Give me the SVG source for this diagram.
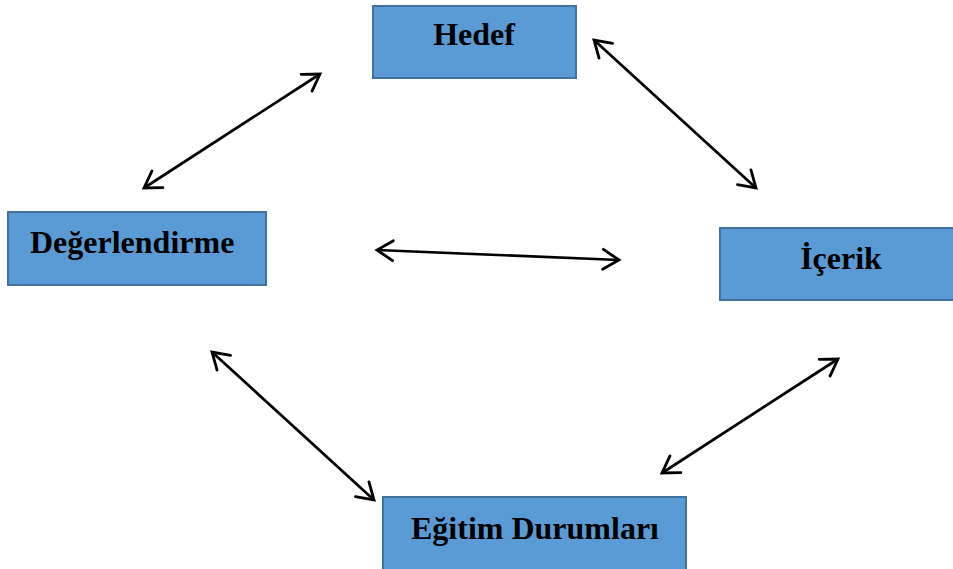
<svg xmlns="http://www.w3.org/2000/svg" width="953" height="569" viewBox="0 0 953 569">
<defs>
<marker id="ah" markerUnits="userSpaceOnUse" markerWidth="40" markerHeight="40" refX="0" refY="0" viewBox="-20 -20 40 40" orient="auto-start-reverse" overflow="visible">
<path d="M-16,-10 L0,0 L-16,10" fill="none" stroke="#000" stroke-width="2.8" stroke-linecap="round" stroke-linejoin="miter"/>
</marker>
<style>
.box{fill:#5b9bd5;stroke:#41719c;stroke-width:2}
.lbl{font-family:"Liberation Serif","Times New Roman",serif;font-weight:bold;font-size:32px;fill:#000}
.con{stroke:#000;stroke-width:2.7;fill:none;marker-start:url(#ah);marker-end:url(#ah)}
</style>
</defs>
<rect width="953" height="569" fill="#fff"/>
<g id="hedef"><rect class="box" x="373" y="6" width="203" height="72"/><text class="lbl" x="474" y="45" text-anchor="middle">Hedef</text></g>
<g id="degerlendirme"><rect class="box" x="8" y="212" width="258" height="73"/><text class="lbl" x="30" y="253">Değerlendirme</text></g>
<g id="icerik"><rect class="box" x="720" y="228" width="236" height="72"/><text class="lbl" x="841" y="269" text-anchor="middle">İçerik</text></g>
<g id="egitim"><rect class="box" x="383" y="497" width="303" height="76"/><text class="lbl" x="535" y="539" text-anchor="middle">Eğitim Durumları</text></g>
<g id="connectors">
<line class="con" x1="320" y1="74" x2="144" y2="188"/>
<line class="con" x1="594" y1="40" x2="756" y2="188"/>
<line class="con" x1="377" y1="250" x2="619" y2="260"/>
<line class="con" x1="838" y1="359" x2="662" y2="473"/>
<line class="con" x1="212" y1="352" x2="374" y2="500"/>
</g>
</svg>
